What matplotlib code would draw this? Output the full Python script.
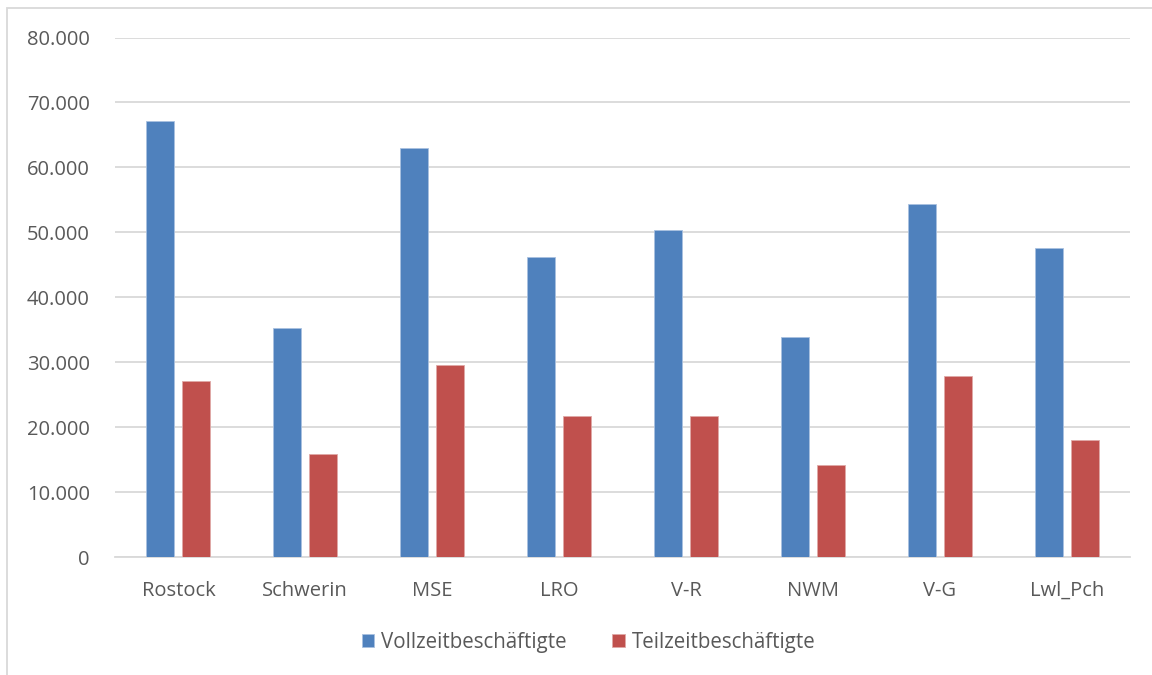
import numpy as np
import matplotlib.pyplot as plt
from matplotlib.patches import Rectangle
from matplotlib.ticker import FuncFormatter

# Beschäftigte nach Kreisen
kreise = ['Rostock', 'Schwerin', 'MSE', 'LRO', 'V-R', 'NWM', 'V-G', 'Lwl_Pch']
vollzeit = [67100, 35200, 63050, 46150, 50400, 33850, 54350, 47550]
teilzeit = [27100, 15850, 29550, 21700, 21750, 14150, 27800, 17950]

plt.rcParams['font.family'] = ['Open Sans', 'DejaVu Sans']
grau = '#595959'

fig = plt.figure(figsize=(11.52, 6.75), dpi=100)
ax = fig.add_axes([0.0998, 0.1748, 0.8812, 0.7696])

x = np.arange(len(kreise))
breite = 0.22
ax.bar(x - 0.142, vollzeit, breite, color='#4f81bd', edgecolor='#a9c1e0',
       linewidth=0.6, label='Vollzeitbeschäftigte', zorder=3)
ax.bar(x + 0.142, teilzeit, breite, color='#c0504d', edgecolor='#e0a9a7',
       linewidth=0.6, label='Teilzeitbeschäftigte', zorder=3)

ax.set_xlim(-0.5, len(kreise) - 0.5)
ax.set_ylim(0, 80000)
ax.set_yticks(range(0, 80001, 10000))
ax.yaxis.set_major_formatter(FuncFormatter(lambda v, p: f'{int(v):,}'.replace(',', '.')))
ax.set_xticks(x)
ax.set_xticklabels(kreise)
ax.tick_params(axis='both', length=0, labelsize=14.5, labelcolor=grau)
ax.tick_params(axis='x', pad=17)
ax.tick_params(axis='y', pad=18)

ax.grid(axis='y', color='#d9d9d9', linewidth=1.3, zorder=0)
for s in ['top', 'right', 'left']:
    ax.spines[s].set_visible(False)
ax.spines['bottom'].set_color('#d9d9d9')
ax.spines['bottom'].set_linewidth(1.3)

leg = fig.legend(loc='center', bbox_to_anchor=(0.511, 0.048), ncol=2, frameon=False,
                 fontsize=14.8, handlelength=0.6, handleheight=0.6, columnspacing=2.2,
                 handletextpad=0.35)
for t in leg.get_texts():
    t.set_color(grau)

# Rahmen um das Diagramm
fig.patches.append(Rectangle((7 / 1152, -0.1), 1.2, 1 - 8 / 675 + 0.1,
                             transform=fig.transFigure, fill=False,
                             edgecolor='#d9d9d9', linewidth=1.3))

fig.savefig('out.png', dpi=100)
